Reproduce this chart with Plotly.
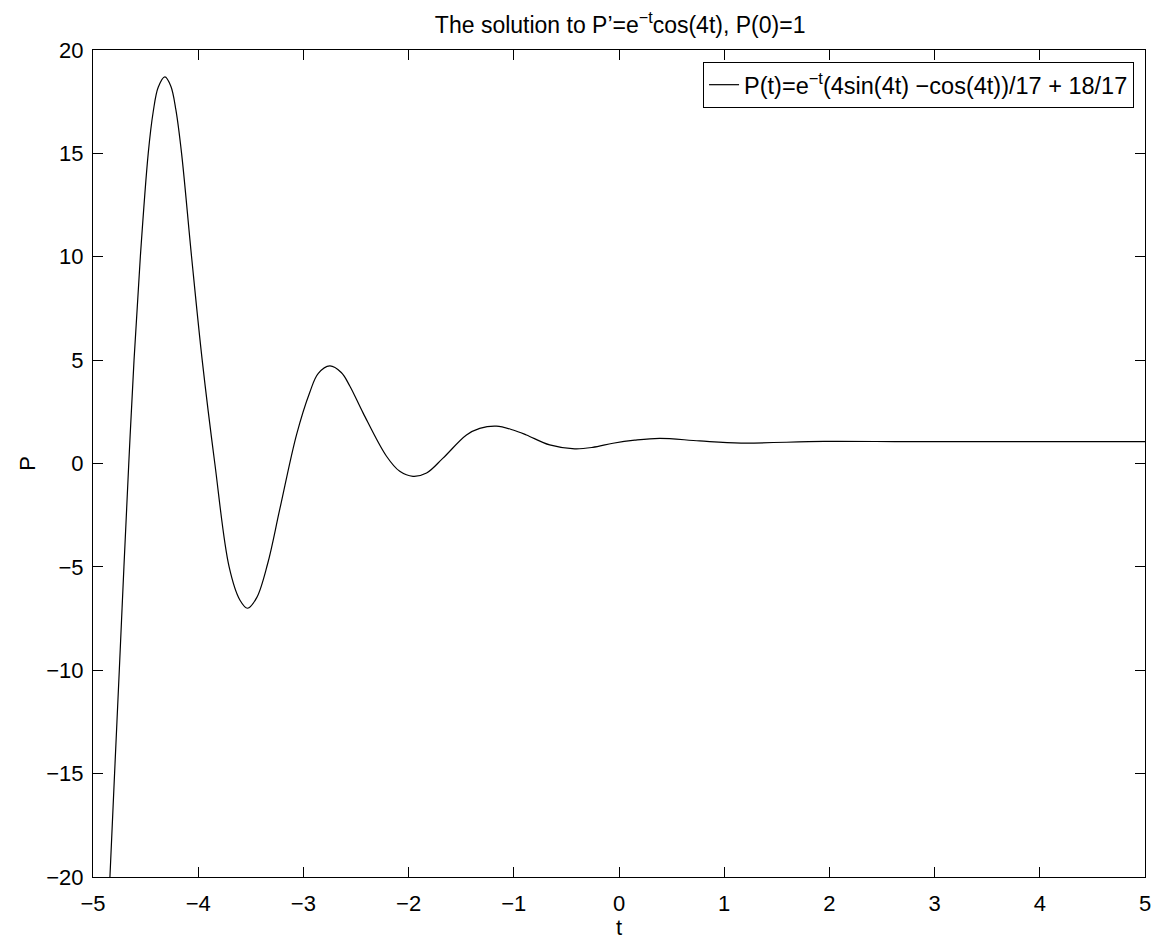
import plotly.graph_objects as go

# Values (t, P)
t_vals = [-4.839, -4.795, -4.750, -4.706, -4.660, -4.610, -4.550, -4.475,
          -4.428, -4.380, -4.317, -4.260, -4.212,
          -4.158, -4.063, -3.962, -3.842, -3.706,
          -3.604, -3.531, -3.445, -3.34, -3.224, -3.065,
          -2.939, -2.86, -2.749, -2.64, -2.559, -2.433, -2.210, -2.084,
          -1.958, -1.829, -1.673, -1.450, -1.324, -1.165, -1.007,
          -0.880, -0.659, -0.421, -0.25, -0.057, 0.15, 0.386, 0.766,
          1.16, 1.95, 2.75, 3.5, 4.3, 5.0]
p_vals = [-20.0, -15.0, -10.0, -5.0, 0.0, 5.0, 10.0, 15.0,
          17.0, 18.2, 18.7, 18.25, 17.1,
          15.0, 10.0, 5.0, 0.0, -5.0,
          -6.6, -7.0, -6.5, -4.85, -2.2, 1.4,
          3.45, 4.35, 4.72, 4.4, 3.75, 2.45, 0.35, -0.38,
          -0.62, -0.46, 0.26, 1.38, 1.70, 1.81, 1.62,
          1.38, 0.90, 0.71, 0.78, 0.98, 1.13, 1.22, 1.09,
          0.99, 1.07, 1.055, 1.06, 1.06, 1.06]

x_ticks = [-5, -4, -3, -2, -1, 0, 1, 2, 3, 4, 5]
y_ticks = [-20, -15, -10, -5, 0, 5, 10, 15, 20]

title_text = "The solution to P’=e<sup>−t</sup>cos(4t), P(0)=1"
legend_text = "P(t)=e<sup>−t</sup>(4sin(4t) −cos(4t))/17 + 18/17"

FONT = "Liberation Sans, Arial, Helvetica, sans-serif"
FS = 22

fig = go.Figure()
fig.add_trace(go.Scatter(
    x=t_vals, y=p_vals, mode="lines", name=legend_text,
    line=dict(color="black", width=1.2, shape="spline", smoothing=1.0),
    showlegend=True,
))

axis_common = dict(
    showline=True, linecolor="black", linewidth=1.2, mirror="ticks",
    ticks="inside", ticklen=10, tickwidth=1, tickcolor="black",
    showgrid=False, zeroline=False,
    tickfont=dict(family=FONT, size=FS, color="black"),
)

fig.update_layout(
    width=1155, height=937,
    margin=dict(l=85, r=17, t=42, b=64),
    paper_bgcolor="white", plot_bgcolor="white",
    font=dict(family=FONT, size=FS, color="black"),
    title=dict(text=title_text, x=0.53, xanchor="center", y=0.982, yanchor="middle",
               font=dict(family=FONT, size=23, color="black")),
    xaxis=dict(range=[-5, 5], tickvals=x_ticks, ticklabelstandoff=6,
               title=dict(text="t", standoff=2, font=dict(family=FONT, size=FS)),
               **axis_common),
    yaxis=dict(range=[-20, 20], tickvals=y_ticks, ticklabelstandoff=4,
               title=dict(text="P", standoff=4, font=dict(family=FONT, size=FS)),
               **axis_common),
    legend=dict(x=0.9896, xanchor="right", y=0.9856, yanchor="top",
                bgcolor="white", bordercolor="black", borderwidth=1,
                font=dict(family=FONT, size=23.5, color="black")),
    showlegend=True,
)

fig.write_html("out.html")
